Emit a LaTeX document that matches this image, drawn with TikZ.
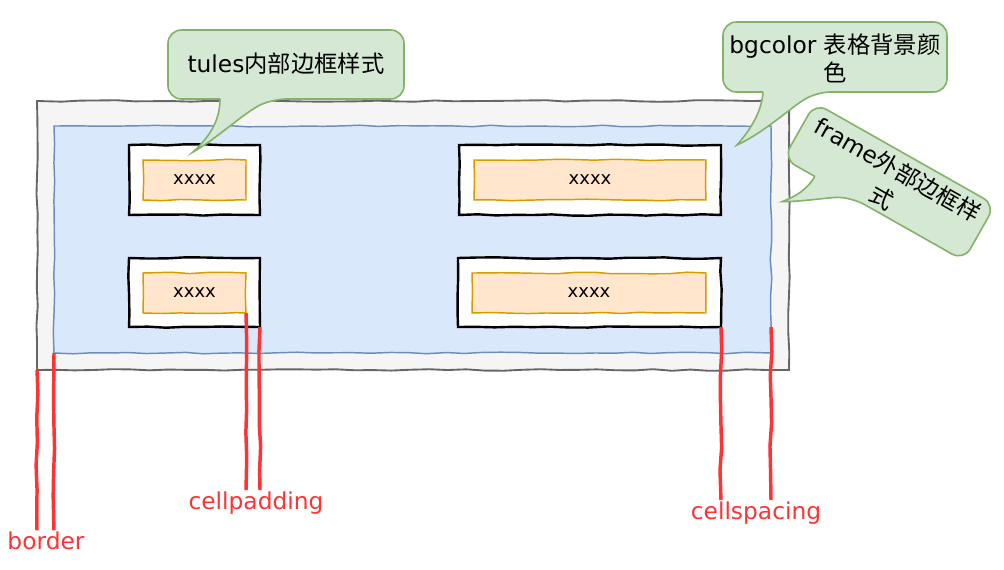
\documentclass[tikz,border=0pt]{standalone}
\usepackage{fontspec}
\setmainfont{DejaVu Sans}
\newfontfamily\cjk{Noto Sans CJK SC}
\usetikzlibrary{decorations.pathmorphing}
\definecolor{gfill}{HTML}{F5F5F5}
\definecolor{gline}{HTML}{666666}
\definecolor{bfill}{HTML}{DAE8FC}
\definecolor{bline}{HTML}{6C8EBF}
\definecolor{ofill}{HTML}{FFE6CC}
\definecolor{oline}{HTML}{D79B00}
\definecolor{cfill}{HTML}{D5E8D4}
\definecolor{cline}{HTML}{82B366}
\definecolor{redl}{HTML}{FF3333}
\begin{document}
\pgfmathsetseed{7}
\begin{tikzpicture}[x=0.75pt,y=-0.75pt,
  wob/.style={decorate,decoration={random steps,segment length=14pt,amplitude=0.6pt}},
  sbox/.style={rectangle,inner sep=0pt,outer sep=0pt,wob},
  outerbox/.style={sbox,draw=gline,fill=gfill,line width=1.4pt},
  bluebox/.style={sbox,draw=bline,fill=bfill,line width=1.1pt},
  cellbox/.style={sbox,draw=black,fill=white,line width=1.8pt},
  contbox/.style={sbox,draw=oline,fill=ofill,line width=1.1pt,font=\fontsize{13.5}{15}\selectfont},
  callout/.style={draw=cline,fill=cfill,line width=1.2pt},
  ctext/.style={font=\fontsize{17.5}{21}\selectfont,align=center,inner sep=0pt},
  redline/.style={draw=redl,line width=2.6pt,decorate,decoration={random steps,segment length=18pt,amplitude=0.8pt}},
  redlabel/.style={text=redl,font=\fontsize{17.5}{20}\selectfont,inner sep=1pt}
]
\useasboundingbox (0,0) rectangle (1004,570);
% table frame
\node[outerbox,minimum width=564pt,minimum height=201.75pt] (outer) at (413,235.5) {};
\node[bluebox,minimum width=537.75pt,minimum height=170.25pt] (blue) at (412.5,239.5) {};
% cells
\node[cellbox,minimum width=98.25pt,minimum height=52.5pt] (c11) at (194.5,180) {};
\node[cellbox,minimum width=196.5pt,minimum height=52.5pt] (c12) at (590,180) {};
\node[cellbox,minimum width=98.25pt,minimum height=51.75pt] (c21) at (194.5,292.5) {};
\node[cellbox,minimum width=197.25pt,minimum height=51.75pt] (c22) at (589.5,292.5) {};
\node[contbox,minimum width=77.25pt,minimum height=30pt] (t11) at (194.5,180) {xxxx};
\node[contbox,minimum width=174pt,minimum height=30pt] (t12) at (590,180) {xxxx};
\node[contbox,minimum width=77.25pt,minimum height=30pt] (t21) at (194.5,293) {xxxx};
\node[contbox,minimum width=175.5pt,minimum height=30pt] (t22) at (589,293) {xxxx};
% callout 1
\draw[callout] (220,99) [rounded corners=10] -- (168,99) -- (168,30) -- (404,30) -- (404,99) -- (273,99) [sharp corners]
  .. controls (245,112) and (215,140) .. (193,152) .. controls (212,135) and (220,118) .. (220,99);
\node[ctext] (rules) at (286,64) {tules\cjk{内部边框样式}};
% callout 2
\draw[callout] (763,92) [rounded corners=10] -- (723,92) -- (723,22) -- (947,22) -- (947,92) -- (817,92) [sharp corners]
  .. controls (790,108) and (765,132) .. (737,145) .. controls (752,128) and (762,110) .. (763,92);
\node[ctext] (bgc) at (835,58) {bgcolor \cjk{表格背景颜}\\\cjk{色}};
% callout 3 (rotated)
\begin{scope}[shift={(815,103)},rotate=-29.5]
\draw[callout] (36,64) [rounded corners=10] -- (0,64) -- (0,0) -- (207,0) -- (207,64) -- (80,64) [sharp corners]
  .. controls (60,74) and (38,92) .. (20,102) .. controls (30,90) and (36,78) .. (36,64);
\node[ctext,transform shape,font=\fontsize{17.5}{24}\selectfont] (frm) at (105,33) {frame\cjk{外部边框样}\\\cjk{式}};
\end{scope}
% labels
\node[redlabel] (lborder) at (46,541) {border};
\node[redlabel] (lpad) at (256,503) {cellpadding};
\node[redlabel] (lspace) at (756,513) {cellspacing};
% red measure lines
\draw[redline] (outer.south west) -- (outer.south west |- lborder.north);
\draw[redline] (blue.south west) -- (blue.south west |- lborder.north);
\draw[redline] (t21.south east) -- (t21.south east |- lpad.north);
\draw[redline] (c21.south east) -- (c21.south east |- lpad.north);
\draw[redline] (c22.south east) -- (c22.south east |- lspace.north);
\coordinate (bedge) at (blue.east |- c22.south east);
\draw[redline] (bedge) -- (bedge |- lspace.north);
\end{tikzpicture}
\end{document}
